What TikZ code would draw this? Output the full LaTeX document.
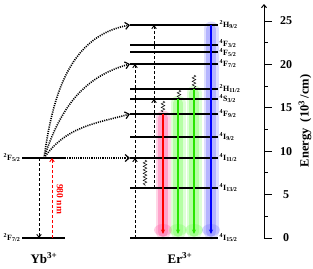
\documentclass[tikz,border=0pt]{standalone}
\usepackage{fontspec}
\setmainfont{Liberation Serif}
\usetikzlibrary{arrows.meta,decorations.pathmorphing}

% term symbol: ^{mult}L_{J}
\newcommand{\trm}[3]{\textsuperscript{#1}#2\textsubscript{#3}}

\definecolor{glowred}{RGB}{255,90,160}
\definecolor{glowgreen}{RGB}{120,255,90}
\definecolor{glowblue}{RGB}{120,120,255}
\definecolor{emgreen}{RGB}{40,230,0}

\begin{document}
\begin{tikzpicture}[
  x=1pt, y=-1pt,
  every node/.style={font=\bfseries},
  level/.style={line width=1.3pt},
  lvllab/.style={font=\bfseries\fontsize{8}{9}\selectfont, anchor=west, inner xsep=1.5pt, inner ysep=0pt},
  pump/.style={dash pattern=on 3pt off 2pt, line width=0.9pt, -{Straight Barb[length=3pt,width=4.5pt]}},
  transfer/.style={dash pattern=on 1.1pt off 1.1pt, line width=1.6pt, -{Straight Barb[length=4pt,width=7pt,line width=1.2pt]}},
  relax/.style={decorate, decoration={snake, amplitude=1.8pt, segment length=3.5pt}, line width=0.5pt},
  emit/.style={line width=1.1pt, -{Stealth[length=4.5pt,width=4pt]}},
  glow/.style={line cap=round},
]
\useasboundingbox (0,0) rectangle (313,268);

\pgfmathsetmacro{\axx}{264}  % energy axis x
\pgfmathsetmacro{\ezero}{238} % y of E = 0
\pgfmathsetmacro{\escale}{8.68} % px per 10^3/cm

% Emission glows (behind everything): x/top/colour
\foreach \gx/\gy/\gc in {163/118/glowred, 178/103/glowgreen, 194/93/glowgreen, 211/29/glowblue} {
  \draw[glow, \gc, line width=15pt, opacity=0.25] (\gx,\gy) -- (\gx,232);
  \draw[glow, \gc, line width=10pt, opacity=0.4] (\gx,\gy) -- (\gx,232);
  \fill[\gc, opacity=0.3] (\gx,230) ellipse (9 and 6);
}

% Er levels: name/y/label shift/label
\foreach \n/\y/\dy/\lab in {
  Ha/25/0/{\trm{2}{H}{9/2}},
  Fa/45/-1/{\trm{4}{F}{3/2}},
  Fb/52/1/{\trm{4}{F}{5/2}},
  Fc/64/0/{\trm{4}{F}{7/2}},
  Hb/89/0/{\trm{2}{H}{11/2}},
  Sa/99/0/{\trm{4}{S}{3/2}},
  Fd/114/0/{\trm{4}{F}{9/2}},
  Ia/137/0/{\trm{4}{I}{9/2}},
  Ib/158/0/{\trm{4}{I}{11/2}},
  Ic/188/0/{\trm{4}{I}{13/2}},
  Id/238/0/{\trm{4}{I}{15/2}}%
} {
  \draw[level] (130,\y) coordinate (\n-l) -- (218,\y) coordinate (\n-r);
  \node[lvllab, yshift=-\dy pt] (\n-lab) at (\n-r) {\lab};
}

% Yb levels
\draw[level] (22,158) coordinate (Yu-l) -- (65,158) coordinate (Yu-r);
\draw[level] (22,238) coordinate (Yg-l) -- (65,238) coordinate (Yg-r);
\node[lvllab, anchor=east] (Yu-lab) at (Yu-l) {\trm{2}{F}{5/2}};
\node[lvllab, anchor=east] (Yg-lab) at (Yg-l) {\trm{2}{F}{7/2}};

% 980 nm excitation and Yb decay
\draw[pump, red] (52,238) coordinate (exc-a) -- (52,158) coordinate (exc-b);
\draw[pump] (39,158) coordinate (dec-a) -- (39,238) coordinate (dec-b);
\node[rotate=-90, red, font=\bfseries\fontsize{9.5}{10}\selectfont] (nm) at (60,199) {980 nm};

% Energy transfer Yb -> Er
\coordinate (src) at (44,158);
\draw[transfer] (Yu-r) -- (Ib-l);
\draw[transfer] (src) to[out=82, in=190] (Ha-l);
\draw[transfer] (src) to[out=72, in=195] (Fc-l);
\draw[transfer] (src) to[out=55, in=195] (Fd-l);

% Upconversion steps in Er
\draw[pump] (135,238) -- (135,158);
\draw[pump] (135,158) -- (135,64);
\draw[pump] (154,188) -- (154,99);
\draw[pump] (154,99) -- (154,25);

% Non-radiative relaxation
\draw[relax] (145,160) -- (145,186);
\draw[relax] (163,101) -- (163,112);
\draw[relax] (179,90) -- (179,98);
\draw[relax] (194,75) -- (194,88);

% Emissions
\draw[emit, red] (163,114) -- (163,234);
\draw[emit, emgreen] (178,99) -- (178,234);
\draw[emit, emgreen] (194,89) -- (194,234);
\draw[emit, blue] (211,25) -- (211,234);

% Energy axis
\draw[line width=1pt, -{Straight Barb[length=3pt,width=5pt]}] (\axx,\ezero) -- (\axx,4);
\foreach \e in {0,5,...,25} {
  \draw[line width=1pt] (\axx,{\ezero-\e*\escale}) -- ({\axx+8},{\ezero-\e*\escale});
  \node[font=\bfseries\fontsize{12}{13}\selectfont] (tick\e) at (286,{\ezero-\e*\escale}) {\e};
}
\foreach \e in {2.5,7.5,...,22.5} {
  \draw[line width=0.9pt] (\axx,{\ezero-\e*\escale}) -- ({\axx+4},{\ezero-\e*\escale});
}
\node[rotate=90, font=\bfseries\fontsize{12.5}{13}\selectfont] (elab) at (305,121) {Energy\ \ (10\textsuperscript{3}\,/cm)};

% Ion labels
\node[font=\bfseries\fontsize{13}{15}\selectfont] (yb) at (44,258) {Yb\textsuperscript{3+}};
\node[font=\bfseries\fontsize{13}{15}\selectfont] (er) at (180,258) {Er\textsuperscript{3+}};

\end{tikzpicture}
\end{document}
